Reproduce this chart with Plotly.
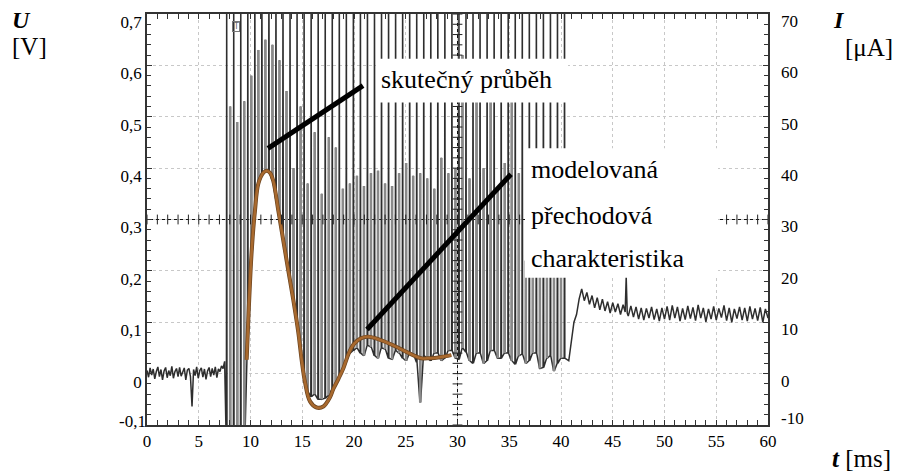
import plotly.graph_objects as go

# ---------------- data ----------------
# pre-trigger noise, t in ms, U in V
pre_t = [0.0, 0.15, 0.3, 0.45, 0.6, 0.75, 0.9, 1.05, 1.2, 1.35, 1.5, 1.65, 1.8, 1.95, 2.1, 2.25,
         2.4, 2.55, 2.7, 2.85, 3.0, 3.15, 3.3, 3.45, 3.6, 3.75, 3.9, 4.05, 4.2, 4.35, 4.5, 4.65,
         4.8, 4.95, 5.1, 5.25, 5.4, 5.55, 5.7, 5.85, 6.0, 6.15, 6.3, 6.45, 6.6, 6.75, 6.9, 7.05,
         7.2, 7.35, 7.5]
pre_u = [0.006, -0.007, 0.011, -0.003, 0.009, -0.010, 0.004, 0.013, -0.006, 0.008, -0.012, 0.005,
         0.012, -0.008, 0.006, -0.004, 0.014, -0.009, 0.004, 0.010, -0.006, 0.012, -0.005, 0.002,
         0.011, -0.012, 0.007, 0.010, -0.006, -0.064, 0.008, -0.004, 0.013, -0.009, 0.006, 0.011,
         -0.007, 0.009, -0.011, 0.005, 0.012, -0.006, 0.010, -0.003, 0.013, -0.008, 0.009, 0.004,
         0.015, 0.010, 0.024]

# tall (off-scale) spikes of the measured signal
spike_t = [7.7, 8.38, 9.06, 9.74, 10.42, 11.1, 11.78, 12.46, 13.14, 13.82, 14.5, 15.18, 15.86,
           16.54, 17.22, 17.9, 18.58, 19.26, 19.94, 20.62, 21.3, 21.98, 22.66, 23.34, 24.02,
           24.7, 25.38, 26.06, 26.74, 27.42, 28.1, 28.78, 29.46, 30.14, 30.82, 31.5, 32.18,
           32.86, 33.54, 34.22, 34.9, 35.58, 36.26, 36.94, 37.62, 38.3, 38.98, 39.66, 40.34]
spike_top = 0.8
spike_base = [-0.15, -0.15, -0.15, 0.07, 0.315, 0.39, 0.393, 0.34, 0.262, 0.18, 0.095, -0.005,
              -0.045, -0.05, -0.048, -0.03, -0.005, 0.025, 0.045, 0.04, 0.055, 0.035, 0.05, 0.03,
              0.045, 0.03, 0.04, 0.022, 0.035, 0.025, 0.04, 0.03, 0.045, 0.028, 0.042, 0.02, 0.04,
              0.025, 0.045, 0.03, 0.04, 0.018, 0.038, 0.025, 0.04, 0.012, 0.035, 0.02, 0.03]

# lower (grey) spikes between the tall ones
grey_t = [8.04, 8.72, 9.4, 10.08, 10.76, 11.44, 12.12, 12.8, 13.48, 14.16, 14.84, 15.52, 16.2,
          16.88, 17.56, 18.24, 18.92, 19.6, 20.28, 20.96, 21.64, 22.32, 23.0, 23.68, 24.36,
          25.04, 25.72, 26.4, 27.08, 27.76, 28.44, 29.12, 29.8, 30.48, 31.16, 31.84, 32.52,
          33.2, 33.88, 34.56, 35.24, 35.92, 36.6, 37.28, 37.96, 38.64, 39.32, 40.0]
grey_top = [0.52, 0.49, 0.53, 0.58, 0.63, 0.65, 0.64, 0.61, 0.55, 0.40, 0.52, 0.37, 0.47, 0.35,
            0.46, 0.44, 0.36, 0.37, 0.385, 0.365, 0.39, 0.395, 0.37, 0.365, 0.39, 0.41, 0.385,
            0.39, 0.38, 0.36, 0.42, 0.39, 0.40, 0.62, 0.38, 0.58, 0.40, 0.60, 0.36, 0.41, 0.56,
            0.39, 0.22, 0.38, 0.21, 0.36, 0.37, 0.22]
grey_base = [-0.15, -0.15, -0.15, 0.22, 0.37, 0.395, 0.376, 0.305, 0.222, 0.14, 0.04, -0.035,
             -0.04, -0.05, -0.042, -0.02, 0.01, 0.04, 0.05, 0.035, 0.052, 0.03, 0.048, 0.028,
             0.04, 0.025, 0.038, -0.056, 0.03, 0.04, 0.025, 0.045, 0.03, 0.05, 0.025, 0.04, 0.02,
             0.045, 0.03, 0.04, 0.025, 0.035, 0.02, 0.04, 0.01, 0.03, 0.005, 0.03]

# after the spike train
post_t = [40.75, 41.0, 41.25, 41.5, 41.75, 42.0, 42.25, 42.5, 42.75, 43.0, 43.25, 43.5, 43.75,
          44.0, 44.25, 44.5, 44.75, 45.0, 45.25, 45.5, 45.75, 46.0, 46.2, 46.3, 46.4, 46.5,
          46.75, 47.0, 47.25, 47.5, 47.75, 48.0, 48.25, 48.5, 48.75, 49.0, 49.25, 49.5, 49.75,
          50.0, 50.25, 50.5, 50.75, 51.0, 51.25, 51.5, 51.75, 52.0, 52.25, 52.5, 52.75, 53.0,
          53.25, 53.5, 53.75, 54.0, 54.25, 54.5, 54.75, 55.0, 55.25, 55.5, 55.75, 56.0, 56.25,
          56.5, 56.75, 57.0, 57.25, 57.5, 57.75, 58.0, 58.25, 58.5, 58.75, 59.0, 59.25, 59.5,
          59.75, 60.0]
post_u = [0.025, 0.06, 0.10, 0.115, 0.145, 0.165, 0.142, 0.158, 0.135, 0.152, 0.128, 0.148,
          0.124, 0.145, 0.122, 0.140, 0.118, 0.138, 0.120, 0.136, 0.115, 0.134, 0.12, 0.188,
          0.118, 0.112, 0.132, 0.110, 0.130, 0.106, 0.128, 0.104, 0.127, 0.108, 0.130, 0.105,
          0.126, 0.102, 0.128, 0.106, 0.131, 0.104, 0.133, 0.108, 0.130, 0.102, 0.127, 0.105,
          0.132, 0.107, 0.129, 0.103, 0.134, 0.108, 0.128, 0.101, 0.126, 0.106, 0.131, 0.104,
          0.127, 0.109, 0.133, 0.103, 0.128, 0.100, 0.126, 0.107, 0.130, 0.104, 0.128, 0.102,
          0.131, 0.106, 0.127, 0.103, 0.129, 0.100, 0.126, 0.108]

# modelled transient characteristic
model_t = [9.63, 10.1, 10.43, 10.76, 11.24, 11.56, 11.88, 12.2, 12.69, 13.17, 13.65, 14.14,
           14.62, 14.94, 15.27, 15.75, 16.39, 17.04, 17.68, 18.0, 18.5, 19.0, 19.5, 20.0, 20.7,
           21.4, 22.2, 23.0, 23.8, 24.8, 25.7, 26.5, 27.3, 28.3, 29.4]
model_u = [0.027, 0.234, 0.317, 0.370, 0.391, 0.395, 0.391, 0.375, 0.317, 0.259, 0.201, 0.143,
           0.080, 0.027, -0.017, -0.054, -0.066, -0.064, -0.046, -0.03, -0.01, 0.012, 0.04,
           0.058, 0.069, 0.072, 0.068, 0.062, 0.055, 0.045, 0.036, 0.03, 0.03, 0.032, 0.036]

x_ticks = [0, 5, 10, 15, 20, 25, 30, 35, 40, 45, 50, 55, 60]
u_ticks = [-0.1, 0.0, 0.1, 0.2, 0.3, 0.4, 0.5, 0.6, 0.7]
u_text = ["-0,1", "0", "0,1", "0,2", "0,3", "0,4", "0,5", "0,6", "0,7"]
i_ticks = [-10, 0, 10, 20, 30, 40, 50, 60, 70]
i_text = ["-10", "0", "10", "20", "30", "40", "50", "60", "70"]

# ---------------- build traces ----------------
sig_x, sig_y = list(pre_t), list(pre_u)
gx, gy = [], []
for k, t in enumerate(spike_t):
    b = spike_base[k]
    sig_x += [t - 0.03, t, t + 0.03]
    sig_y += [b, spike_top, b]
    if k < len(grey_t):
        g, gb, gt = grey_t[k], grey_base[k], grey_top[k]
        sig_x += [g - 0.03, g, g + 0.03]
        sig_y += [gb, gt, gb]
        gx += [g, g, None]
        gy += [gb, gt, None]
sig_x += post_t
sig_y += post_u

FONT = "Liberation Serif, Times New Roman, Tinos, DejaVu Serif, serif"
fig = go.Figure()
fig.add_trace(go.Scatter(x=sig_x, y=sig_y, mode="lines",
                         line=dict(color="#2e2e2e", width=1.5), hoverinfo="skip"))
fig.add_trace(go.Scatter(x=gx, y=gy, mode="lines",
                         line=dict(color="#8a8a8a", width=2.6), hoverinfo="skip"))
fig.add_trace(go.Scatter(x=model_t, y=model_u, mode="lines",
                         line=dict(color="#6b4420", width=4, shape="spline"), hoverinfo="skip"))
fig.add_trace(go.Scatter(x=model_t, y=model_u, mode="lines",
                         line=dict(color="#a8692e", width=2.6, shape="spline"), hoverinfo="skip"))

# tick marks on the centre cross-hair lines
fig.add_trace(go.Scatter(x=[i for i in range(0, 61)], y=[0.3] * 61, mode="markers",
                         marker=dict(symbol="line-ns-open", size=7, color="#222",
                                     line=dict(color="#222", width=1)),
                         hoverinfo="skip"))
cy = [round(-0.1 + 0.02 * i, 2) for i in range(41)]
fig.add_trace(go.Scatter(x=[30] * len(cy), y=cy, mode="markers",
                         marker=dict(symbol="line-ew-open", size=7, color="#222",
                                     line=dict(color="#222", width=1)),
                         hoverinfo="skip"))
for ya in ("y2", "y3", "y4"):
    fig.add_trace(go.Scatter(x=[None], y=[None], yaxis=ya, showlegend=False))

fig.add_hline(y=0.3, line=dict(color="#111", width=1), layer="below")
fig.add_vline(x=30, line=dict(color="#111", width=1), layer="below")

L, R, T, B = 147, 768, 12, 425
def px(x): return (x - L) / (R - L)
def py(y): return (B - y) / (B - T)

# white label backgrounds
for (x0, y0, x1, y1) in [(376, 57, 568, 101), (525, 147, 718, 277)]:
    fig.add_shape(type="rect", xref="paper", yref="paper", x0=px(x0), x1=px(x1),
                  y0=py(y1), y1=py(y0), fillcolor="white", line=dict(width=0), layer="above")
# pointer lines
for (x0, y0, x1, y1) in [(268, 147, 363, 84), (367, 329, 511, 173)]:
    fig.add_shape(type="line", xref="paper", yref="paper", x0=px(x0), y0=py(y0),
                  x1=px(x1), y1=py(y1), line=dict(color="black", width=5), layer="above")

ann = []
def text(s, x, y, size, xa="left"):
    ann.append(dict(text=s, x=x, y=y, xref="paper", yref="paper", xanchor=xa, yanchor="middle",
                    showarrow=False, font=dict(family=FONT, size=size, color="black")))
text("skutečný průběh", px(379), py(78), 26)
text("modelovaná", px(529), py(168), 26)
text("přechodová", px(529), py(214), 26)
text("charakteristika", px(529), py(258), 26)
text("<b><i>U</i></b>", px(10), py(18), 24)
text("[V]", px(10), py(45), 25)
text("<b><i>I</i></b>", px(831), py(18), 24)
text("[μA]", px(843), py(46), 25)
text("<b><i>t</i></b> [ms]", px(830), py(459), 25)
ann.append(dict(text="T", x=px(232), y=py(19), xref="paper", yref="paper", showarrow=False,
                font=dict(family="DejaVu Sans", size=8, color="#666"), bordercolor="#777",
                borderwidth=1, borderpad=0))
fig.update_layout(annotations=ann)

TF = dict(family=FONT, size=17, color="black")
axis_common = dict(showline=True, linecolor="#333", linewidth=1.5, mirror="allticks",
                   ticks="inside", ticklen=5, tickcolor="#333",
                   showgrid=True, gridcolor="#c8c8c8", griddash="dot", gridwidth=1,
                   zeroline=False, tickfont=TF)
label_only = dict(overlaying="y", showgrid=False, zeroline=False, ticks="", showline=False,
                  tickfont=TF)
fig.update_layout(
    width=901, height=474, margin=dict(l=L, r=901 - R, t=T, b=474 - B),
    paper_bgcolor="white", plot_bgcolor="white", showlegend=False,
    xaxis=dict(range=[0, 60], tickvals=x_ticks, **axis_common,
               minor=dict(ticks="inside", ticklen=4, dtick=1, tickcolor="#333")),
    yaxis=dict(range=[-0.1, 0.7], tickvals=u_ticks, ticktext=[""] + u_text[1:], **axis_common,
               ticklabelshift=8,
               minor=dict(ticks="inside", ticklen=4, dtick=0.02, tickcolor="#333")),
    yaxis2=dict(range=[-10, 70], tickvals=i_ticks, ticktext=[""] + i_text[1:], side="right",
                ticklabelshift=7, ticklabelstandoff=12, **label_only),
    yaxis3=dict(range=[-0.1, 0.7], tickvals=u_ticks[:1], ticktext=u_text[:1], side="left",
                ticklabelshift=-4, **label_only),
    yaxis4=dict(range=[-10, 70], tickvals=i_ticks[:1], ticktext=i_text[:1], side="right",
                ticklabelshift=-7, ticklabelstandoff=12, **label_only),
)
fig.write_html("out.html", config={"displayModeBar": False},
               post_script="document.body.style.margin='0';document.body.style.padding='0';")
